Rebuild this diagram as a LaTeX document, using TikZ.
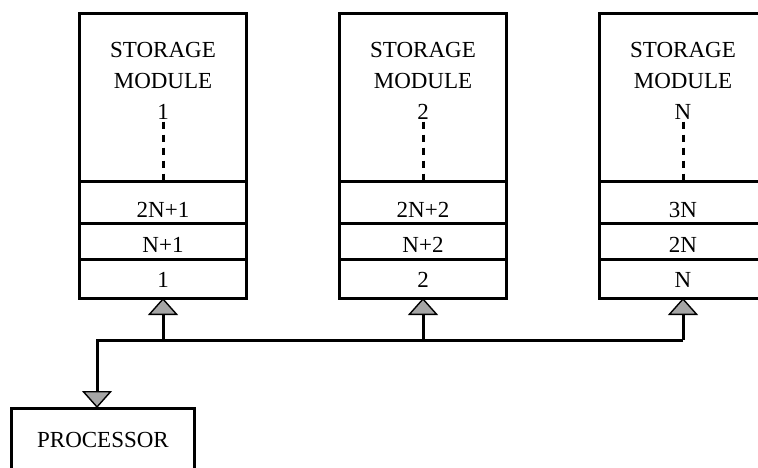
\documentclass[tikz,border=0pt]{standalone}
\usepackage{fontspec}
\setmainfont{Liberation Serif}
\usetikzlibrary{arrows.meta,positioning}
\begin{document}
\begin{tikzpicture}[x=1pt, y=-1pt,
    every node/.style={font=\fontsize{23}{31}\selectfont, outer sep=0pt},
    modbox/.style={draw, line width=3pt, minimum width=167pt, minimum height=168pt},
    modlabel/.style={align=center, inner sep=2pt},
    cell/.style={draw, line width=3pt, minimum width=167pt, inner sep=0pt, anchor=north},
    procbox/.style={draw, line width=3pt, minimum width=183pt, minimum height=64pt},
    tip/.style={line width=3pt, -{Triangle[width=30pt, length=17pt, line width=1.4pt, fill=gray!70]}},
    dots/.style={line width=3pt, dash pattern=on 7pt off 6pt}
  ]
    \useasboundingbox (0,0) rectangle (758,468);
    \clip (0,0) rectangle (758,468);
    % storage modules with their interleaved words
    \foreach \x/\n/\a/\b/\c [count=\i] in {163/1/2N+1/N+1/1, 423/2/2N+2/N+2/2, 683/N/3N/2N/N} {
      \node[modbox] (m\i) at (\x,98) {};
      \node[modlabel] (l\i) at (\x,81) {STORAGE\\MODULE\\\n};
      \node[cell, text height=36pt, text depth=5pt] (a\i) at (m\i.south) {\a};
      \node[cell, text height=29.5pt, text depth=6.5pt] (b\i) at (a\i.south) {\b};
      \node[cell, text height=28.5pt, text depth=10.5pt] (c\i) at (b\i.south) {\c};
      \draw[dots] (l\i.south) -- (m\i.south);
      \coordinate (j\i) at (\x,340);
      \draw[tip] (j\i) -- (c\i.south);
    }
    % processor on the common bus
    \node[procbox] (proc) at (103,440) {PROCESSOR};
    \coordinate (bl) at (97,340);
    \draw[tip] (j3) -- (bl) -- (bl |- proc.north);
  \end{tikzpicture}
\end{document}
